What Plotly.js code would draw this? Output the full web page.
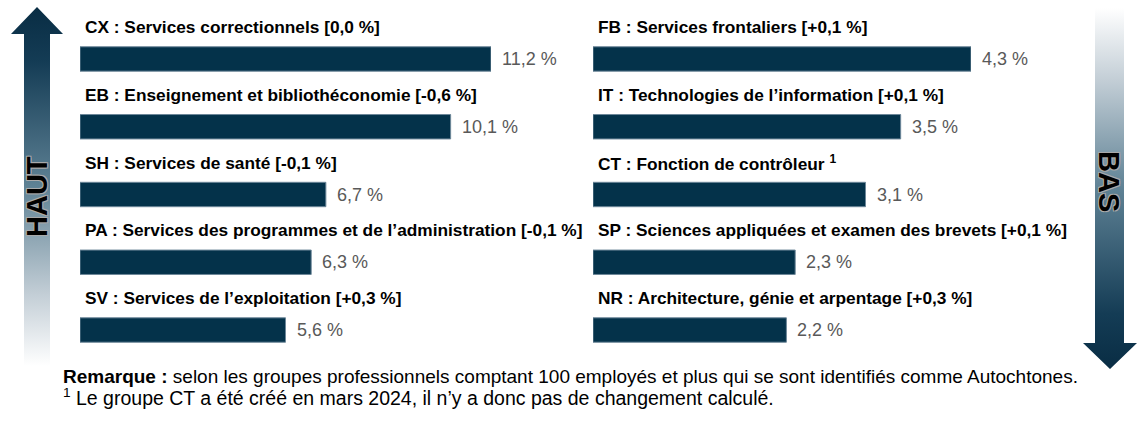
<!DOCTYPE html>
<html><head><meta charset="utf-8">
<script src="https://cdn.plot.ly/plotly-3.0.1.min.js"></script>
<style>html,body{margin:0;padding:0;background:#fff}#chart{width:1140px;height:422px}</style>
</head><body><div id="chart"></div>
<script>
// ---- data ----
const leftCodes = ['CX','EB','SH','PA','SV'];
const leftNames = ['Services correctionnels','Enseignement et bibliothéconomie','Services de santé','Services des programmes et de l’administration','Services de l’exploitation'];
const leftChange = [0.0,-0.6,-0.1,-0.1,0.3];
const leftValues = [11.2,10.1,6.7,6.3,5.6];

const rightCodes = ['FB','IT','CT','SP','NR'];
const rightNames = ['Services frontaliers','Technologies de l’information','Fonction de contrôleur','Sciences appliquées et examen des brevets','Architecture, génie et arpentage'];
const rightChange = [0.1,0.1,null,0.1,0.3];
const rightValues = [4.3,3.5,3.1,2.3,2.2];

const rows = [0,1,2,3,4];
const noteTitle = 'Remarque :';
const noteText = ' selon les groupes professionnels comptant 100 employés et plus qui se sont identifiés comme Autochtones.';
const footnote = 'Le groupe CT a été créé en mars 2024, il n’y a donc pas de changement calculé.';

// ---- helpers ----
const fr = v => v.toFixed(1).replace('.', ',');
const chg = v => v === null ? ' <sup>1</sup>' : ' [' + (v > 0 ? '+' : '') + fr(v) + ' %]';

const W = 1140, H = 422;
const barColor = '#04324a';
const font = 'Liberation Sans, Arial, sans-serif';

// decorative arrows (pixel overlay axes)
const leftArrowX = [24,24,11,37,63,50,50];
const leftArrowY = [366,34,34,7,34,34,366];
const rightArrowX = [1095,1095,1083,1110,1137,1124,1124];
const rightArrowY = [8,343,343,369,343,343,8];

const traces = [
  {type:'scatter', x:leftArrowX, y:leftArrowY, xaxis:'x3', yaxis:'y3', mode:'none', fill:'toself',
   fillgradient:{type:'vertical', start:8, stop:366, colorscale:[[0,'#092d44'],[0.15,'#143c55'],[0.5,'#5f8295'],[0.8,'#c3ced6'],[1,'#ffffff']]},
   hoverinfo:'skip', showlegend:false},
  {type:'scatter', x:rightArrowX, y:rightArrowY, xaxis:'x3', yaxis:'y3', mode:'none', fill:'toself',
   fillgradient:{type:'vertical', start:8, stop:368, colorscale:[[0,'#ffffff'],[0.2,'#c3ced6'],[0.5,'#5f8295'],[0.85,'#143c55'],[1,'#092d44']]},
   hoverinfo:'skip', showlegend:false},
  {type:'bar', orientation:'h', x:leftValues, y:rows, xaxis:'x', yaxis:'y', width:0.36,
   marker:{color:barColor, line:{color:'#6d8799', width:1}}, hoverinfo:'x', showlegend:false},
  {type:'bar', orientation:'h', x:rightValues, y:rows, xaxis:'x2', yaxis:'y2', width:0.36,
   marker:{color:barColor, line:{color:'#6d8799', width:1}}, hoverinfo:'x', showlegend:false}
];

const yTop = 25.1, yBot = 363.9;
const yDom = [1 - yBot/H, 1 - yTop/H];

const annotations = [];
rows.forEach(i => {
  annotations.push({xref:'x', yref:'y', x:0, y:i, xanchor:'left', yanchor:'middle', xshift:3, yshift:32, showarrow:false,
    text:'<b>' + leftCodes[i] + ' : ' + leftNames[i] + chg(leftChange[i]) + '</b>', font:{family:font, size:17.3, color:'#000'}});
  annotations.push({xref:'x', yref:'y', x:leftValues[i], y:i, xanchor:'left', yanchor:'middle', xshift:9, showarrow:false,
    text:fr(leftValues[i]) + ' %', font:{family:font, size:18, color:'#595959'}});
  annotations.push({xref:'x2', yref:'y2', x:0, y:i, xanchor:'left', yanchor:'middle', xshift:3, yshift:32, showarrow:false,
    text:'<b>' + rightCodes[i] + ' : ' + rightNames[i] + chg(rightChange[i]) + '</b>', font:{family:font, size:17.3, color:'#000'}});
  annotations.push({xref:'x2', yref:'y2', x:rightValues[i], y:i, xanchor:'left', yanchor:'middle', xshift:9, showarrow:false,
    text:fr(rightValues[i]) + ' %', font:{family:font, size:18, color:'#595959'}});
});
annotations.push({xref:'paper', yref:'paper', x:61/W, y:1-376/H, xanchor:'left', yanchor:'middle', showarrow:false,
  text:'<b>' + noteTitle + '</b>' + noteText, font:{family:font, size:19, color:'#000'}});
annotations.push({xref:'paper', yref:'paper', x:61/W, y:1-397/H, xanchor:'left', yanchor:'middle', showarrow:false,
  text:'<sup>1</sup> ' + footnote, font:{family:font, size:19.5, color:'#000'}});
const outline = '-1px -1px 0 #aaa, 1px -1px 0 #aaa, -1px 1px 0 #aaa, 1px 1px 0 #aaa';
annotations.push({xref:'paper', yref:'paper', x:37/W, y:1-196/H, xanchor:'center', yanchor:'middle', showarrow:false, textangle:-90,
  text:'<b>HAUT</b>', font:{family:font, size:29, color:'#000', shadow:outline}});
annotations.push({xref:'paper', yref:'paper', x:1109/W, y:1-181/H, xanchor:'center', yanchor:'middle', showarrow:false, textangle:90,
  text:'<b>BAS</b>', font:{family:font, size:29, color:'#000', shadow:outline}});

const hidden = {visible:false, showgrid:false, zeroline:false, fixedrange:true};
const layout = {
  width:W, height:H, margin:{l:0,r:0,t:0,b:0}, paper_bgcolor:'#fff', plot_bgcolor:'rgba(0,0,0,0)',
  showlegend:false, barmode:'overlay',
  xaxis: Object.assign({}, hidden, {domain:[80/W, 491/W], range:[0, 11.2], anchor:'y'}),
  yaxis: Object.assign({}, hidden, {domain:yDom, range:[4.5,-0.5], anchor:'x'}),
  xaxis2: Object.assign({}, hidden, {domain:[593/W, 971/W], range:[0, 4.3], anchor:'y2'}),
  yaxis2: Object.assign({}, hidden, {domain:yDom, range:[4.5,-0.5], anchor:'x2'}),
  xaxis3: Object.assign({}, hidden, {domain:[0,1], range:[0,W], anchor:'y3'}),
  yaxis3: Object.assign({}, hidden, {domain:[0,1], range:[H,0], anchor:'x3'}),
  annotations: annotations
};
Plotly.newPlot('chart', traces, layout, {displayModeBar:false, staticPlot:true});
</script></body></html>
